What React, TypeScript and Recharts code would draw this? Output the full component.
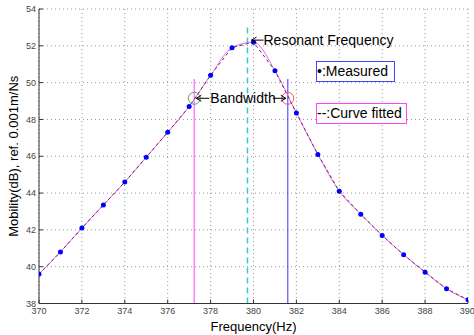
import { CartesianGrid, Line, LineChart, ReferenceDot, ReferenceLine, XAxis, YAxis } from 'recharts'

// measured mobility, one point per Hz
const freqHz = [370, 371, 372, 373, 374, 375, 376, 377, 378, 379, 380, 381, 382, 383, 384, 385, 386, 387, 388, 389, 390]
const measuredDb = [39.6, 40.8, 42.1, 43.35, 44.6, 45.95, 47.3, 48.7, 50.4, 51.9, 52.2, 50.65, 48.35, 46.1, 44.1, 42.85, 41.7, 40.65, 39.7, 38.8, 38.2]

const xTicks = [370, 372, 374, 376, 378, 380, 382, 384, 386, 388, 390]
const yTicks = [38, 40, 42, 44, 46, 48, 50, 52, 54]

// markers: resonance and half-power (-3 dB) band edges
const resonantHz = 379.72
const resonantTopDb = 53.2
const bandEdgesHz = [377.24, 381.6]
const bandTopDb = 50.2
const halfPowerDb = 49.15
const floorDb = 38

const FONT = '"Liberation Sans", Arial, sans-serif'

const rows = freqHz.map((f, i) => ({ freq: f, db: measuredDb[i] }))

const arrowLeft = (x: number, y: number, len: number) => (
  <path d={`M${x + len},${y} L${x},${y} M${x + 5},${y - 3} L${x},${y} L${x + 5},${y + 3}`} stroke="#000" strokeWidth={1} fill="none" />
)
const arrowRight = (x: number, y: number, len: number) => (
  <path d={`M${x - len},${y} L${x},${y} M${x - 5},${y - 3} L${x},${y} L${x - 5},${y + 3}`} stroke="#000" strokeWidth={1} fill="none" />
)

export default function App() {
  return (
    <div style={{ position: 'absolute', left: 0, top: 0, width: 474, height: 335, fontFamily: FONT, background: '#fff' }}>
      <LineChart width={474} height={335} data={rows} margin={{ top: 9, right: 6, bottom: 0, left: 0 }}>
        <CartesianGrid stroke="#999" strokeDasharray="1 3" />
        <XAxis
          dataKey="freq" type="number" domain={[370, 390]} ticks={xTicks} allowDataOverflow
          height={31.5} tickSize={-4} tickMargin={8}
          stroke="#333" tick={{ fontSize: 9, fill: '#444', fontFamily: FONT }}
          label={{ value: 'Frequency(Hz)', position: 'insideBottom', offset: 4, fontSize: 13, fill: '#000', fontFamily: FONT }}
        />
        <XAxis xAxisId="top" orientation="top" type="number" domain={[370, 390]} ticks={xTicks} height={0} tickSize={-4} tick={false} stroke="#555" />
        <YAxis
          type="number" domain={[38, 54]} ticks={yTicks} allowDataOverflow
          width={39} tickSize={-4} tickMargin={7}
          stroke="#333" tick={{ fontSize: 9, fill: '#444', fontFamily: FONT }}
          label={{ value: 'Mobility(dB), ref. 0.001m/Ns', angle: -90, position: 'insideLeft', offset: 13, fontSize: 13, fill: '#000', fontFamily: FONT, style: { textAnchor: 'middle' } }}
        />
        <YAxis yAxisId="right" orientation="right" type="number" domain={[38, 54]} ticks={yTicks} width={0} tickSize={-4} tick={false} stroke="#777" />

        <ReferenceLine segment={[{ x: bandEdgesHz[0], y: floorDb }, { x: bandEdgesHz[0], y: bandTopDb }]} stroke="#ff80ff" strokeWidth={1.5} />
        <ReferenceLine segment={[{ x: resonantHz, y: floorDb }, { x: resonantHz, y: resonantTopDb }]} stroke="#33cccc" strokeWidth={1.5} strokeDasharray="6 4" />
        <ReferenceLine segment={[{ x: bandEdgesHz[1], y: floorDb }, { x: bandEdgesHz[1], y: bandTopDb }]} stroke="#3333ff" strokeWidth={1} />

        <Line dataKey="db" type="monotone" stroke="#ff55ff" strokeWidth={1} dot={false} isAnimationActive={false} />
        <Line dataKey="db" type="linear" stroke="#444" strokeWidth={1} strokeDasharray="3 3" dot={{ r: 2.5, fill: '#0000ff', stroke: 'none' }} isAnimationActive={false} />

        <ReferenceDot
          x={freqHz[10]} y={measuredDb[10]} r={0}
          shape={(p: any) => (
            <g>
              {arrowLeft(p.cx - 2, p.cy - 2, 12)}
              <text x={p.cx + 10} y={p.cy + 3} fontSize={14} fontFamily={FONT} fill="#000">Resonant Frequency</text>
            </g>
          )}
        />
        <ReferenceDot
          x={bandEdgesHz[0]} y={halfPowerDb} r={6}
          shape={(p: any) => (
            <g>
              <circle cx={p.cx} cy={p.cy} r={6} fill="none" stroke="#55aa55" strokeWidth={1} />
              {arrowLeft(p.cx + 2, p.cy, 13)}
              <text x={p.cx + 16} y={p.cy + 5} fontSize={14} fontFamily={FONT} fill="#000">Bandwidth</text>
            </g>
          )}
        />
        <ReferenceDot
          x={bandEdgesHz[1]} y={halfPowerDb} r={6}
          shape={(p: any) => (
            <g>
              <circle cx={p.cx} cy={p.cy} r={6} fill="none" stroke="#ff5555" strokeWidth={1} />
              {arrowRight(p.cx - 2, p.cy, 13)}
            </g>
          )}
        />
      </LineChart>

      <div style={{ position: 'absolute', left: 316, top: 61, width: 77, height: 19, border: '1px solid #4444ff', fontSize: 14, lineHeight: '19px', background: '#fff', whiteSpace: 'nowrap' }}>
        •:Measured
      </div>
      <div style={{ position: 'absolute', left: 316, top: 103, width: 89, height: 19, border: '1px solid #ff44ff', fontSize: 14, lineHeight: '19px', background: '#fff', whiteSpace: 'nowrap' }}>
        --:Curve fitted
      </div>
    </div>
  )
}
